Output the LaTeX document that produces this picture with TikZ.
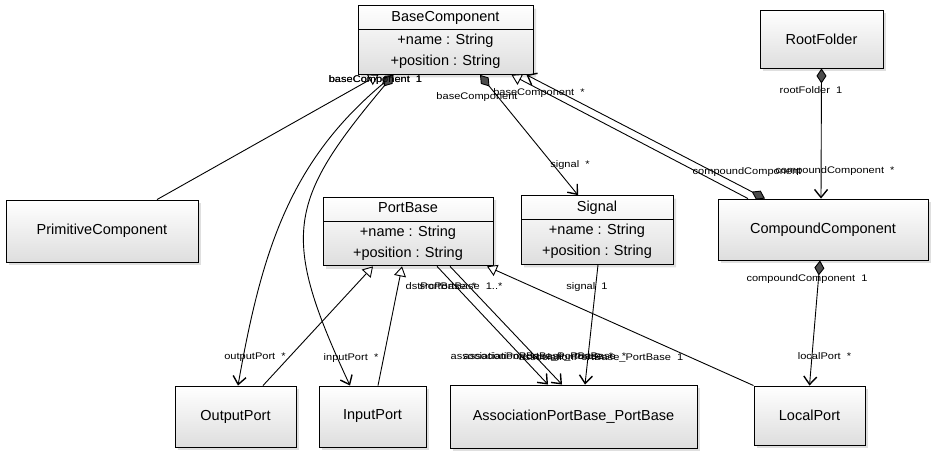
\documentclass[tikz,border=0pt]{standalone}
\usepackage{fontspec}
\setmainfont{Liberation Sans}
\newfontfamily\rolefont[FakeStretch=1.15]{Liberation Sans}
\usetikzlibrary{arrows.meta,shapes.multipart,shadows}
\begin{document}
\begin{tikzpicture}[x=10pt,y=10pt,
    cls/.style={draw=black, line width=0.9pt, top color=white, bottom color=black!13,
      drop shadow={opacity=0.25,shadow xshift=3pt,shadow yshift=-3pt},
      font=\fontsize{14.5}{21}\selectfont, inner sep=0pt},
    clsattr/.style={cls, rectangle split, rectangle split parts=2, align=center},
    role/.style={font=\rolefont\fontsize{9.6}{11}\selectfont, inner sep=0pt},
    wire/.style={line width=0.9pt},
    isa/.style={wire, -{Triangle[length=10pt,width=12pt,fill=white]}},
    has/.style={wire, {Diamond[length=15pt,width=10pt,fill=black!70]}-{Straight Barb[length=8pt,width=13pt,line width=1.4pt]}},
    uses/.style={wire, -{Straight Barb[length=8pt,width=13pt,line width=1.4pt]}}]
    \useasboundingbox (0,0) rectangle (93.1,-45.1);
    % classes
    \node [clsattr, minimum width=175pt] (base) at (44.55,-4.0)
      {\rule[-8pt]{0pt}{23pt}BaseComponent\nodepart{two}\rule{0pt}{15pt}+name : String\\+position : String\rule[-8pt]{0pt}{8pt}};
    \node [cls, minimum width=123pt, minimum height=58pt] (root) at (82.15,-3.9) {RootFolder};
    \node [cls, minimum width=192pt, minimum height=62pt] (prim) at (10.2,-23.1) {PrimitiveComponent};
    \node [clsattr, minimum width=170pt] (portbase) at (40.8,-23.15)
      {\rule[-8pt]{0pt}{23pt}PortBase\nodepart{two}\rule{0pt}{15pt}+name : String\\+position : String\rule[-8pt]{0pt}{8pt}};
    \node [clsattr, minimum width=152pt] (signal) at (59.7,-23.0)
      {\rule[-8pt]{0pt}{23pt}Signal\nodepart{two}\rule{0pt}{15pt}+name : String\\+position : String\rule[-8pt]{0pt}{8pt}};
    \node [cls, minimum width=210pt, minimum height=61pt] (compound) at (82.3,-22.95) {CompoundComponent};
    \node [cls, minimum width=121pt, minimum height=61pt] (outport) at (23.55,-41.65) {OutputPort};
    \node [cls, minimum width=107pt, minimum height=61pt] (inport) at (37.25,-41.65) {InputPort};
    \node [cls, minimum width=247pt, minimum height=63pt] (assoc) at (57.35,-41.65) {AssociationPortBase\_PortBase};
    \node [cls, minimum width=111pt, minimum height=59pt] (local) at (80.95,-41.55) {LocalPort};
    % generalisations
    \draw [isa] ([xshift=55pt]prim.north) -- ([xshift=-67pt]base.south);
    \draw [isa] ([xshift=-75pt]compound.north) -- ([xshift=66pt]base.south);
    \draw [isa] ([xshift=27.5pt]outport.north) -- ([xshift=-35pt]portbase.south);
    \draw [isa] ([xshift=5.5pt]inport.north) -- ([xshift=-6pt]portbase.south);
    \draw [isa] (local.north west) -- ([xshift=79pt]portbase.south);
    % compositions
    \draw [has] ([xshift=-52pt]base.south) to[out=-140,in=80]
      node [role, at start, xshift=-18pt, yshift=-5.5pt] {baseComponent~~1}
      node [role, at end, xshift=17pt, yshift=28pt] {outputPort~~*}
      ([xshift=2.5pt]outport.north);
    \draw [has] ([xshift=-52pt]base.south) to[out=-130,in=115,looseness=1.35]
      node [role, at start, xshift=-18pt, yshift=-5.5pt] {baseComponent~~1}
      node [role, at end, xshift=1pt, yshift=28pt] {inputPort~~*}
      ([xshift=-22.5pt]inport.north);
    \draw [has] ([xshift=34.5pt]base.south) --
      node [role, at start, xshift=-3pt, yshift=-22.5pt] {baseComponent}
      node [role, at end, xshift=-8pt, yshift=30pt] {signal~~*}
      ([xshift=-19pt]signal.north);
    \draw [has] ([xshift=-58pt]compound.north) --
      node [role, at start, xshift=-18pt, yshift=27pt] {compoundComponent}
      node [role, at end, xshift=12.5pt, yshift=-18.5pt] {baseComponent~~*}
      ([xshift=81pt]base.south);
    \draw [has] (root.south) --
      node [role, at start, xshift=-10.5pt, yshift=-22pt] {rootFolder~~1}
      node [role, at end, xshift=14pt, yshift=28pt] {compoundComponent~~*}
      ([xshift=-2pt]compound.north);
    \draw [has] ([xshift=-3pt]compound.south) --
      node [role, at start, xshift=-13pt, yshift=-19pt] {compoundComponent~~1}
      node [role, at end, xshift=15pt, yshift=29pt] {localPort~~*}
      (local.north);
    % associations
    \draw [uses] ([xshift=29pt]portbase.south) --
      node [role, at start, xshift=4pt, yshift=-20pt] {dstPortBase~~*}
      node [role, at end, xshift=-16pt, yshift=28pt] {associationPortBase\_PortBase~~*}
      ([xshift=-25.5pt]assoc.north);
    \draw [uses] ([xshift=42pt]portbase.south) --
      node [role, at start, xshift=11pt, yshift=-20pt] {srcPortBase~~1..*}
      node [role, at end, xshift=-17pt, yshift=28pt] {associationPortBase\_PortBase~~*}
      ([xshift=-11.5pt]assoc.north);
    \draw [uses] ([xshift=1pt]signal.south) --
      node [role, at start, xshift=-11pt, yshift=-22pt] {signal~~1}
      node [role, at end, xshift=16pt, yshift=27pt] {associationPortBase\_PortBase~~1}
      ([xshift=11.5pt]assoc.north);
\end{tikzpicture}
\end{document}
